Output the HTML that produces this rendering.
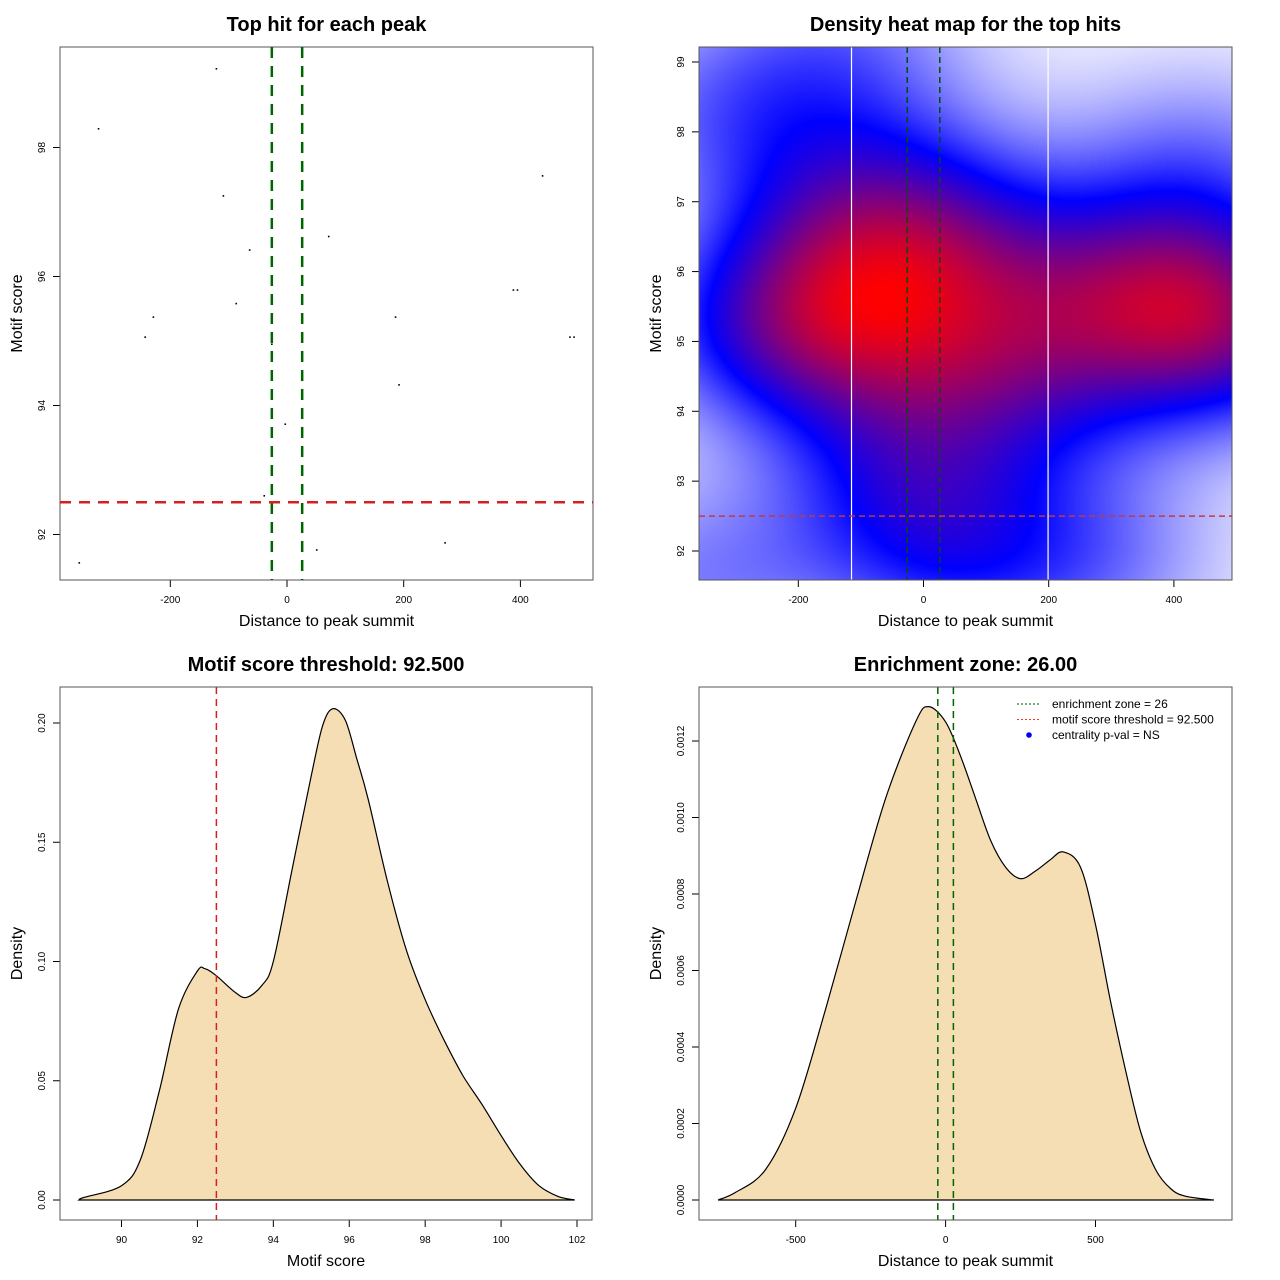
<!DOCTYPE html>
<html><head><meta charset="utf-8"><style>
html,body{margin:0;padding:0;background:#fff;}
#wrap{position:relative;width:1280px;height:1280px;}
#heat{position:absolute;left:699px;top:47px;}
svg{position:absolute;left:0;top:0;}
text{font-family:"Liberation Sans",sans-serif;}
</style></head><body>
<div id="wrap">
<canvas id="heat" width="533" height="533"></canvas>
<svg id="svg" width="1280" height="1280" xmlns="http://www.w3.org/2000/svg"></svg>
</div>
<script>
// ---- data ----
const hitDistance = [-121,-323,438,-109,71.5,-64,388,395,-87,-229,186,-243,485,492,-26,192,-3,-39,-356,51,271];
const hitScore    = [99.22,98.29,97.56,97.25,96.62,96.41,95.79,95.79,95.58,95.37,95.37,95.06,95.06,95.06,94.95,94.32,93.71,92.6,91.56,91.76,91.87];
const enrichZone = [-26, 26];
const scoreThreshold = 92.5;
const heatWhiteLines = [-115, 199];
const scoreDensX = [88.89,89,90,90.5,91,91.5,92,92.2,92.5,93,93.3,93.7,94,94.5,95,95.3,95.57,95.9,96.2,96.5,97,97.5,98,98.5,99,99.5,100,100.5,101,101.5,101.94];
const scoreDensY = [0,0.001,0.006,0.017,0.046,0.080,0.096,0.097,0.094,0.087,0.085,0.090,0.100,0.139,0.178,0.199,0.206,0.201,0.185,0.168,0.134,0.105,0.084,0.067,0.052,0.040,0.027,0.015,0.006,0.0015,0];
const distDensX = [-759,-700,-600,-500,-400,-300,-200,-100,-57,0,50,100,150,200,250,300,350,393,450,500,550,600,650,700,750,800,895];
const distDensY = [0,0.00002,0.00008,0.00024,0.0005,0.00078,0.00105,0.00125,0.00129,0.00125,0.00116,0.00105,0.00094,0.00087,0.00084,0.00086,0.00089,0.00091,0.00087,0.00072,0.00052,0.00034,0.00018,0.00008,0.00003,0.00001,0];
const tlXTicks = [-200,0,200,400];
const tlYTicks = [92,94,96,98];
const trYTicks = [92,93,94,95,96,97,98,99];
const blXTicks = [90,92,94,96,98,100,102];
const blYTicks = [0,0.05,0.10,0.15,0.20];
const blYLabels = ["0.00","0.05","0.10","0.15","0.20"];
const brXTicks = [-500,0,500];
const brYTicks = [0,0.0002,0.0004,0.0006,0.0008,0.0010,0.0012];
const brYLabels = ["0.0000","0.0002","0.0004","0.0006","0.0008","0.0010","0.0012"];

const NS="http://www.w3.org/2000/svg";
const svg=document.getElementById('svg');
function el(tag,attrs,parent,txt){const e=document.createElementNS(NS,tag);for(const k in attrs)e.setAttribute(k,attrs[k]);if(txt!==undefined)e.textContent=txt;(parent||svg).appendChild(e);return e;}
function lin(d0,d1,p0,p1){return v=>p0+(v-d0)*(p1-p0)/(d1-d0);}
function smoothPath(pts){
  let d='M'+pts[0][0].toFixed(1)+','+pts[0][1].toFixed(1);
  for(let i=0;i<pts.length-1;i++){
    const p0=pts[Math.max(i-1,0)],p1=pts[i],p2=pts[i+1],p3=pts[Math.min(i+2,pts.length-1)];
    const c1=[p1[0]+(p2[0]-p0[0])/6,p1[1]+(p2[1]-p0[1])/6];
    const c2=[p2[0]-(p3[0]-p1[0])/6,p2[1]-(p3[1]-p1[1])/6];
    d+=' C'+c1[0].toFixed(1)+','+c1[1].toFixed(1)+' '+c2[0].toFixed(1)+','+c2[1].toFixed(1)+' '+p2[0].toFixed(1)+','+p2[1].toFixed(1);
  }
  return d+' Z';
}

function panel(name,box,title,xt,yt,sx,sy,xTicks,xLabels,yTicks,yLabels){
  const g=el('g',{},svg);
  
  
  const t=el('text',{x:(box.l+box.r)/2,y:box.t-16,'text-anchor':'middle','font-size':'20','font-weight':'bold'},g,title);
  
  const xa=el('text',{x:(box.l+box.r)/2,y:box.b+46,'text-anchor':'middle','font-size':'16'},g,xt);
  
  const cy=(box.t+box.b)/2;
  const ya=el('text',{x:0,y:0,'text-anchor':'middle','font-size':'16',transform:`translate(${box.l-38},${cy}) rotate(-90)`},g,yt);
  
  const xg=el('g',{},g);
  el('line',{x1:sx(xTicks[0]),x2:sx(xTicks[xTicks.length-1]),y1:box.b,y2:box.b,stroke:'#000'},xg);
  xTicks.forEach((v,i)=>{const x=sx(v);el('line',{x1:x,x2:x,y1:box.b,y2:box.b+7,stroke:'#000'},xg);
    const tl=el('text',{x:x,y:box.b+23,'text-anchor':'middle','font-size':'10'},xg,xLabels[i]);
    });
  const yg=el('g',{},g);
  el('line',{x1:box.l,x2:box.l,y1:sy(yTicks[0]),y2:sy(yTicks[yTicks.length-1]),stroke:'#000'},yg);
  yTicks.forEach((v,i)=>{const y=sy(v);el('line',{x1:box.l-7,x2:box.l,y1:y,y2:y,stroke:'#000'},yg);
    const tl=el('text',{x:0,y:0,'text-anchor':'middle','font-size':'10',transform:`translate(${box.l-15},${y}) rotate(-90)`},yg,yLabels[i]);
    });
  return g;
}
function frame(g,box){const r=el('rect',{x:box.l,y:box.t,width:box.r-box.l,height:box.b-box.t,fill:'none',stroke:'#555','stroke-width':1},g);}

// ---- top-left scatter ----
const b1={l:60,r:593,t:47,b:580};
const sx1=lin(0,200,287,403.7), sy1=lin(92,94,534.5,405.5);
const g1=panel('scatter-panel',b1,'Top hit for each peak','Distance to peak summit','Motif score',sx1,sy1,tlXTicks,tlXTicks.map(String),tlYTicks,tlYTicks.map(String));
frame(g1,b1);
hitDistance.forEach((d,i)=>{const p=el('rect',{x:sx1(d)-0.8,y:sy1(hitScore[i])-0.8,width:1.6,height:1.6,fill:'#000'},g1);
  });
enrichZone.forEach(z=>{const l=el('line',{x1:sx1(z),x2:sx1(z),y1:b1.t,y2:b1.b,stroke:'#006400','stroke-width':2.5,'stroke-dasharray':'11,8'},g1);
  });
{const l=el('line',{x1:b1.l,x2:b1.r,y1:sy1(scoreThreshold),y2:sy1(scoreThreshold),stroke:'#d42020','stroke-width':2.5,'stroke-dasharray':'11,8'},g1);
 }

// ---- top-right heatmap ----
const b2={l:699,r:1232,t:47,b:580};
const sx2=lin(0,200,923.5,1048.7), sy2=lin(92,99,551,62);
const g2=panel('heatmap-panel',b2,'Density heat map for the top hits','Distance to peak summit','Motif score',sx2,sy2,tlXTicks,tlXTicks.map(String),trYTicks,trYTicks.map(String));
(function(){
  const n=hitDistance.length;
  function sd(a){const m=a.reduce((s,v)=>s+v,0)/a.length;return Math.sqrt(a.reduce((s,v)=>s+(v-m)*(v-m),0)/(a.length-1));}
  function q(a,p){const s=[...a].sort((x,y)=>x-y);const h=(s.length-1)*p;const lo=Math.floor(h);return s[lo]+(h-lo)*(s[Math.min(lo+1,s.length-1)]-s[lo]);}
  function bw(a){return 1.06*Math.min(sd(a),(q(a,.75)-q(a,.25))/1.34)*Math.pow(n,-0.2);}
  const hx=bw(hitDistance)*1.0, hy=bw(hitScore)*1.15;
  const x0=Math.min(...hitDistance),x1=Math.max(...hitDistance),y0=Math.min(...hitScore),y1=Math.max(...hitScore);
  const cv=document.getElementById('heat');const ctx=cv.getContext('2d');
  const W=533,H=533;const img=ctx.createImageData(W,H);const dens=new Float32Array(W*H);let mx=0;
  for(let j=0;j<H;j++){const yv=y1-(j+0.5)/H*(y1-y0);
    for(let i=0;i<W;i++){const xv=x0+(i+0.5)/W*(x1-x0);let s=0;
      for(let k=0;k<n;k++){const dx=(xv-hitDistance[k])/hx,dy=(yv-hitScore[k])/hy;s+=Math.exp(-0.5*(dx*dx+dy*dy));}
      dens[j*W+i]=s;if(s>mx)mx=s;}}
  for(let p=0;p<W*H;p++){const t=dens[p]/mx;let r,g,b;
    if(t<0.45){const u=t/0.45;r=255*(1-u);g=255*(1-u);b=255;}else{const u=(t-0.45)/0.55;r=255*u;g=0;b=255*(1-u);}
    img.data[p*4]=r;img.data[p*4+1]=g;img.data[p*4+2]=b;img.data[p*4+3]=255;}
  ctx.putImageData(img,0,0);
})();
heatWhiteLines.forEach(v=>{const l=el('line',{x1:sx2(v),x2:sx2(v),y1:b2.t,y2:b2.b,stroke:'#fff','stroke-width':1.2},g2);
  });
enrichZone.forEach(z=>{const l=el('line',{x1:sx2(z),x2:sx2(z),y1:b2.t,y2:b2.b,stroke:'#005000','stroke-width':1.5,'stroke-dasharray':'6,4'},g2);
  });
{const l=el('line',{x1:b2.l,x2:b2.r,y1:sy2(scoreThreshold),y2:sy2(scoreThreshold),stroke:'#c83838','stroke-width':1.5,'stroke-dasharray':'6,4'},g2);
 }
frame(g2,b2);

// ---- bottom-left score density ----
const b3={l:60,r:592,t:687,b:1220};
const sx3=lin(90,102,121.5,577), sy3=lin(0,0.2,1200,723);
const g3=panel('score-density-panel',b3,'Motif score threshold: 92.500','Motif score','Density',sx3,sy3,blXTicks,blXTicks.map(String),blYTicks,blYLabels);
{const pts=scoreDensX.map((v,i)=>[sx3(v),sy3(scoreDensY[i])]);
 const p=el('path',{d:smoothPath(pts),fill:'#f5deb3',stroke:'#000','stroke-width':1.2},g3);
 }
{const l=el('line',{x1:sx3(scoreThreshold),x2:sx3(scoreThreshold),y1:b3.t,y2:b3.b,stroke:'#d42020','stroke-width':1.5,'stroke-dasharray':'7,5'},g3);
 }
frame(g3,b3);

// ---- bottom-right distance density ----
const b4={l:699,r:1232,t:687,b:1220};
const sx4=lin(0,500,945.6,1095.5), sy4=lin(0,0.0012,1200,741);
const g4=panel('distance-density-panel',b4,'Enrichment zone: 26.00','Distance to peak summit','Density',sx4,sy4,brXTicks,brXTicks.map(String),brYTicks,brYLabels);
{const pts=distDensX.map((v,i)=>[sx4(v),sy4(distDensY[i])]);
 const p=el('path',{d:smoothPath(pts),fill:'#f5deb3',stroke:'#000','stroke-width':1.2},g4);
 }
enrichZone.forEach(z=>{const l=el('line',{x1:sx4(z),x2:sx4(z),y1:b4.t,y2:b4.b,stroke:'#006400','stroke-width':1.5,'stroke-dasharray':'7,5'},g4);
  });
frame(g4,b4);
// legend
const lg=el('g',{},g4);
const legItems=[['enrichment zone = 26','#006400','line'],['motif score threshold = 92.500','#ff3030','line'],['centrality p-val = NS','#0000ff','dot']];
legItems.forEach((it,i)=>{const y=704+i*15.5;const e=el('g',{},lg);
  if(it[2]==='line')el('line',{x1:1017,x2:1041,y1:y,y2:y,stroke:it[1],'stroke-width':1,'stroke-dasharray':'2,2'},e);
  else el('circle',{cx:1029,cy:y,r:2.8,fill:it[1]},e);
  el('text',{x:1052,y:y+4,'font-size':'12'},e,it[0]);});
</script>
</body></html>
